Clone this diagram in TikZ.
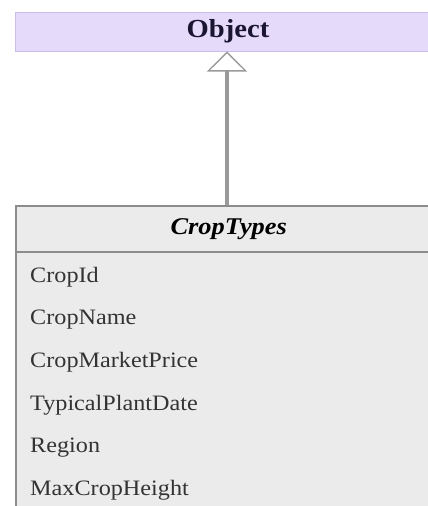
\documentclass[tikz,border=0pt]{standalone}
\usepackage{fontspec}
\setmainfont[FakeStretch=1.1]{Liberation Serif}
\usetikzlibrary{arrows.meta}
\definecolor{objfill}{HTML}{E6DAFB}
\definecolor{objdraw}{HTML}{CDBDEA}
\definecolor{clsfill}{HTML}{EBEBEB}
\definecolor{clsdraw}{HTML}{8C8C8C}
\definecolor{linkgray}{HTML}{9A9A9A}
\definecolor{objtext}{HTML}{1A1530}
\tikzset{
  objbox/.style={draw=objdraw, fill=objfill, line width=1pt, minimum width=426pt, minimum height=39pt, inner sep=0pt, text=objtext, font=\fontsize{26}{28}\selectfont\bfseries},
  clshead/.style={draw=clsdraw, fill=clsfill, line width=1.5pt, minimum width=426pt, minimum height=46pt, inner sep=0pt, font=\fontsize{24}{26}\selectfont\bfseries\itshape},
  clsbody/.style={draw=clsdraw, fill=clsfill, line width=1.5pt, minimum width=426pt, minimum height=290pt, inner sep=0pt},
  attr/.style={anchor=west, inner sep=0pt, font=\fontsize{22}{24}\selectfont, text=black!80},
  inherit/.style={draw=linkgray, line width=3.2pt, -{Triangle[width=40pt, length=20pt, fill=white, line width=1.3pt]}}
}
\begin{document}
\begin{tikzpicture}[x=1pt,y=-1pt]
\clip (0,0) rectangle (428,506);
\fill[white] (0,0) rectangle (428,506);
\node[objbox] (obj) at (228,31.5) {Object};
\node[clsbody, anchor=north west] (body) at (15,251) {};
\node[clshead, anchor=north west] (ct) at (15,205) {CropTypes};
\node[attr] (a1) at (30,277) {CropId};
\node[attr] (a2) at (30,320) {CropName};
\node[attr] (a3) at (30,362) {CropMarketPrice};
\node[attr] (a4) at (30,405) {TypicalPlantDate};
\node[attr] (a5) at (30,448) {Region};
\node[attr] (a6) at (30,490) {MaxCropHeight};
\coordinate (ctop) at (227,205);
\coordinate (otip) at (227,51.5);
\draw[inherit] (ctop) -- (otip);
\end{tikzpicture}
\end{document}
